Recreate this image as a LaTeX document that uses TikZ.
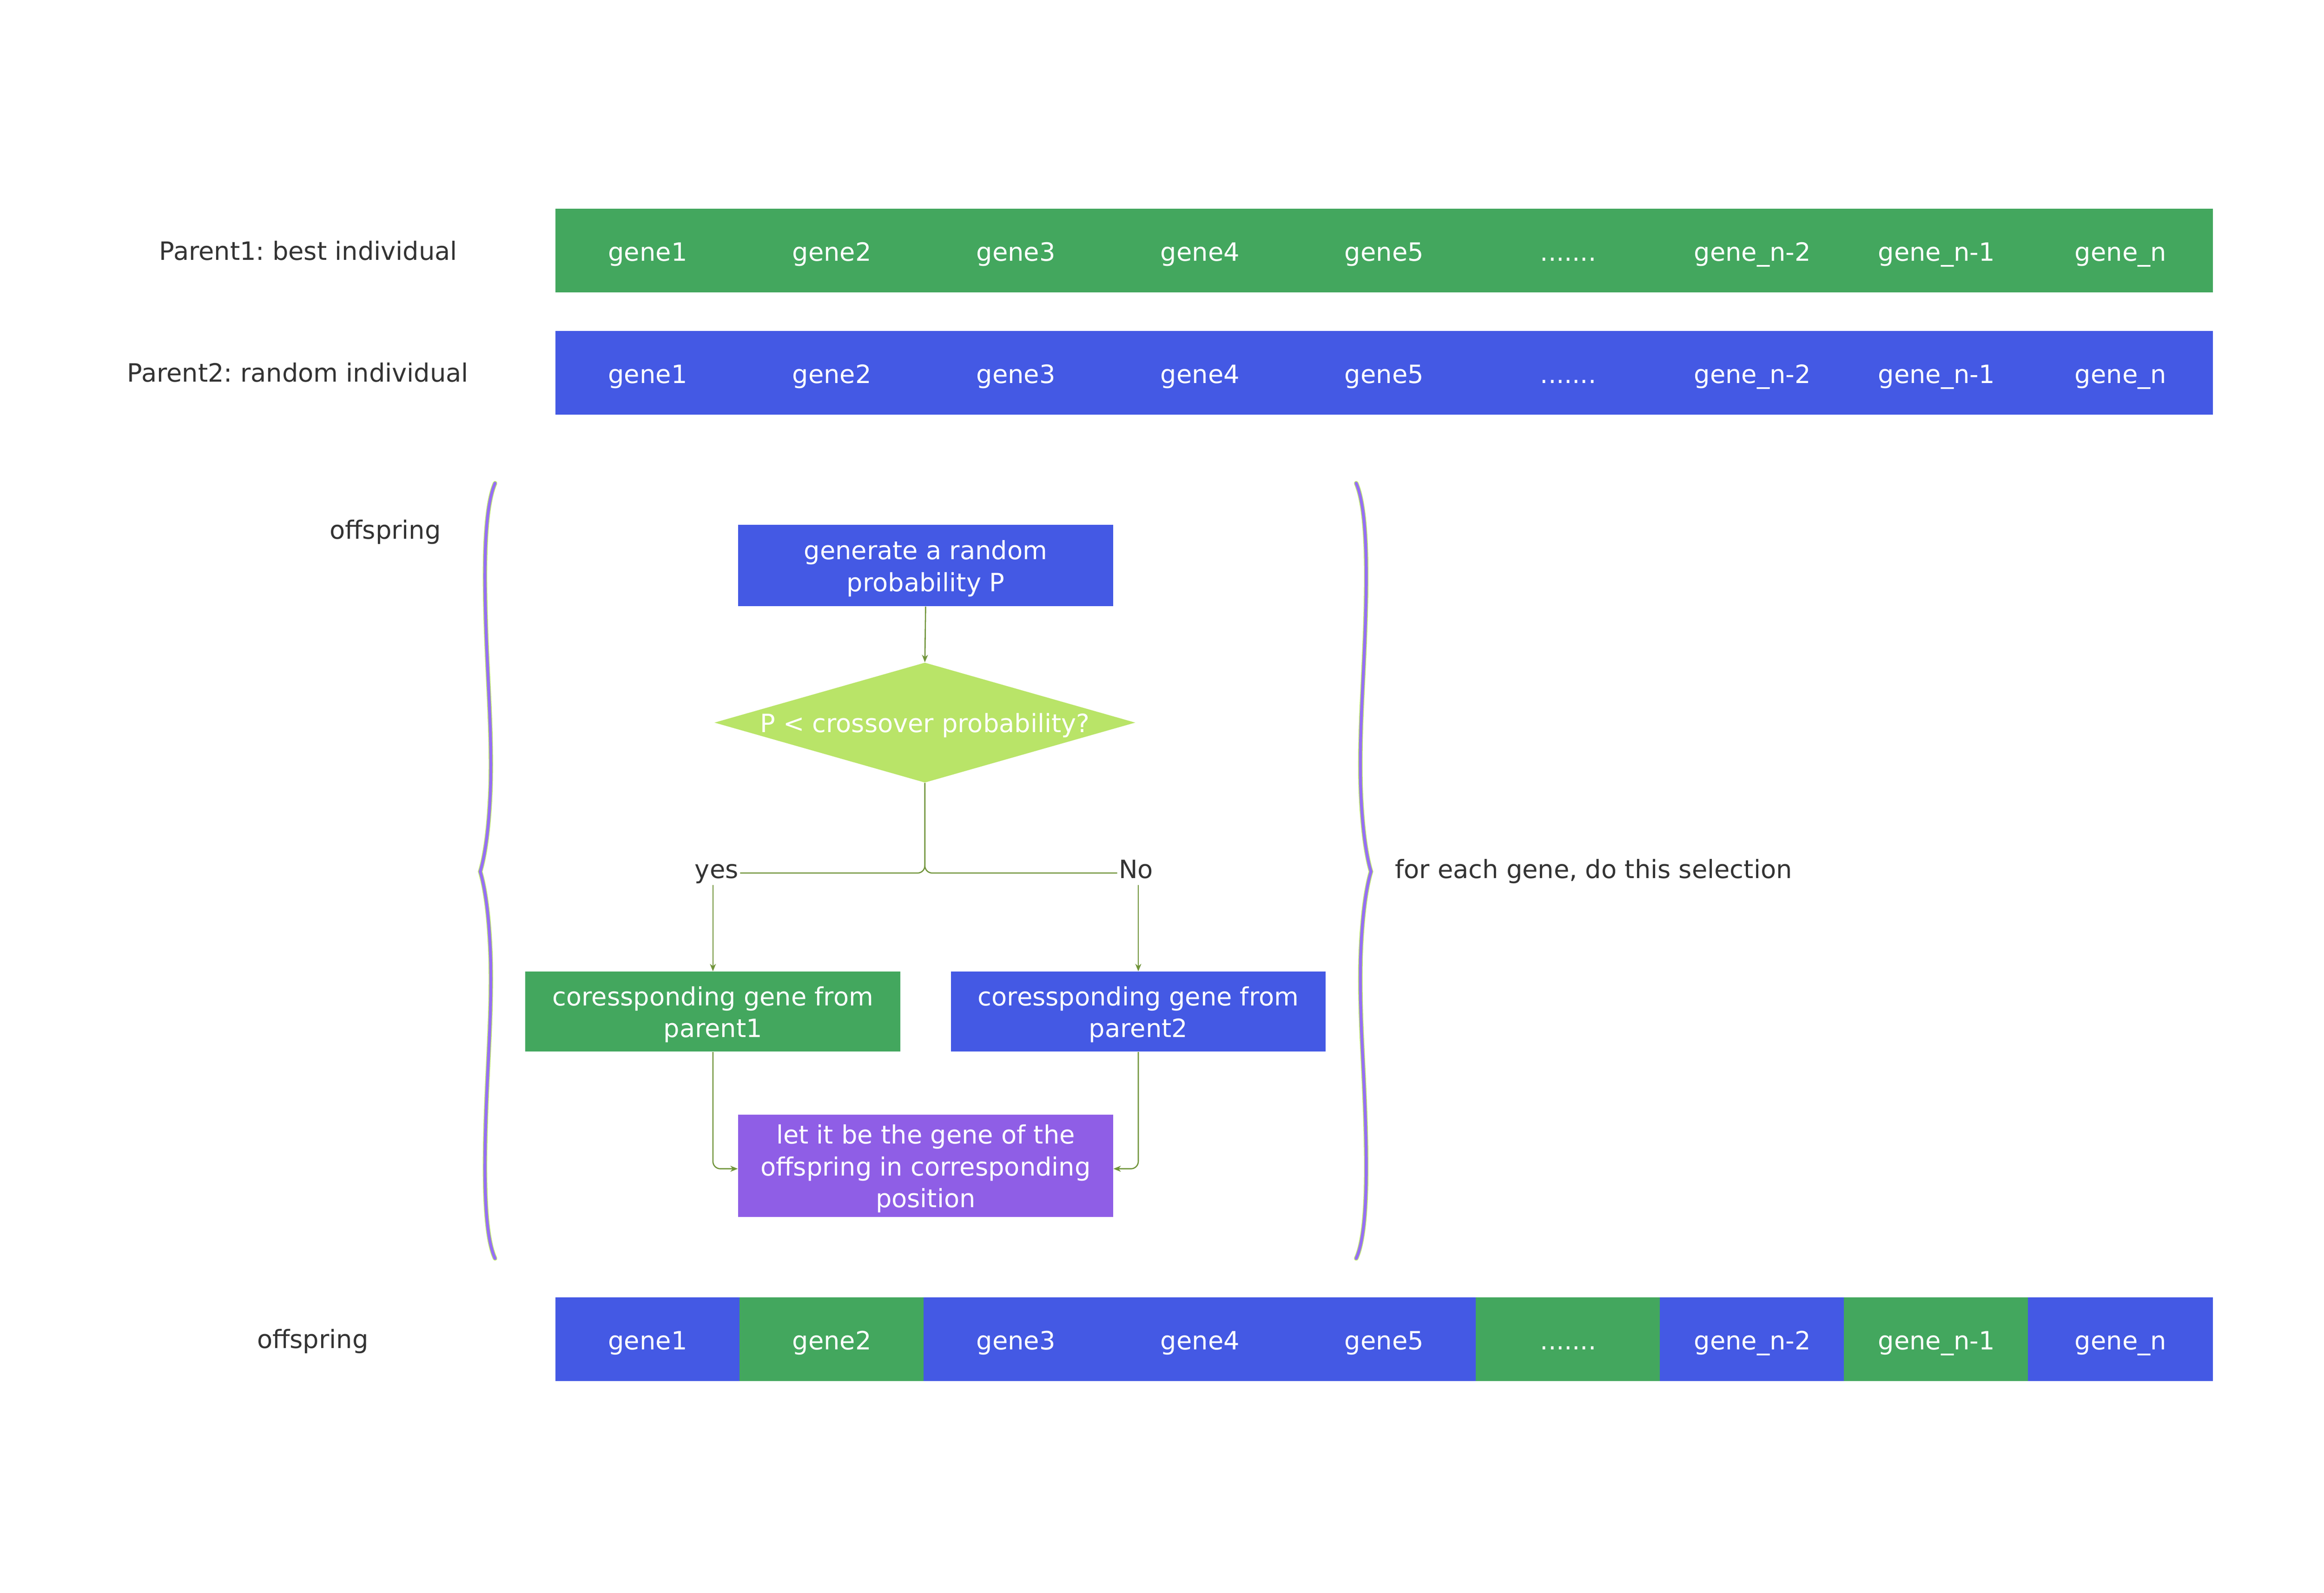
\documentclass[tikz,border=0pt]{standalone}
\usepackage{fontspec}
\setmainfont{DejaVu Sans}
\usetikzlibrary{shapes.geometric,arrows.meta}
\definecolor{ggreen}{RGB}{67,167,94}
\definecolor{gblue}{RGB}{68,89,228}
\definecolor{gpurple}{RGB}{143,94,230}
\definecolor{dgreen}{RGB}{185,228,104}
\definecolor{lcol}{RGB}{112,148,58}
\definecolor{tcol}{RGB}{51,51,51}
\definecolor{bpurple}{RGB}{150,110,245}
\definecolor{bgreen}{RGB}{190,230,110}
\newcommand\sevdots{.......}
\frenchspacing
\tikzset{
  cell/.style={minimum width=124.5pt, minimum height=56pt, inner sep=0pt, text height=15pt, text depth=1pt, text=white, fill=#1, draw=#1, line width=0.3pt},
  lbl/.style={text=tcol, inner sep=1pt, text height=12.5pt, text depth=3.5pt},
  fbox/.style={minimum width=253pt, minimum height=#1, inner sep=0pt},
  btext/.style={text=white, align=center, inner sep=0pt},
  conn/.style={draw=lcol, line width=0.8pt},
  arr/.style={-{Stealth[length=5pt,width=4pt,inset=1.5pt]}},
  dia/.style={diamond, fill=dgreen, minimum width=284pt, minimum height=81pt, inner sep=0pt},
}
\begin{document}
\begin{tikzpicture}[x=1pt,y=-1pt, font=\fontsize{17}{21.5}\selectfont]
\useasboundingbox[fill=white] (0,0) rectangle (1568,1074.7);
% parent rows
\foreach \t [count=\i from 0] in {gene1,gene2,gene3,gene4,gene5,\sevdots,gene\_n-2,gene\_n-1,gene\_n}{
  \node[cell=ggreen] (pa\i) at ({437+\i*124.22},169) {\t};
  \node[cell=gblue]  (pb\i) at ({437+\i*124.22},251.5) {\t};
}
\foreach \t/\c [count=\i from 0] in {gene1/gblue,gene2/ggreen,gene3/gblue,gene4/gblue,gene5/gblue,\sevdots/ggreen,gene\_n-2/gblue,gene\_n-1/ggreen,gene\_n/gblue}{
  \node[cell=\c] (of\i) at ({437+\i*124.22},903.5) {\t};
}
\node[lbl] (l1) at (208,171) {Parent1: best individual};
\node[lbl] (l2) at (201,253) {Parent2: random individual};
\node[lbl] (l3) at (260,359) {offspring};
\node[lbl] (l4) at (211,905) {offspring};
\node[lbl, anchor=west] (l5) at (940,588) {for each gene, do this selection};
% flowchart
\node[fbox=55pt, fill=gblue] (gen) at (624.5,381.5) {};
\node[btext] (gent) at ([yshift=-2pt]gen.center) {generate a random\\probability P};
\node[dia] (d) at (624,487.5) {};
\node[btext] (dt) at ([yshift=-2pt]d.center) {P < crossover probability?};
\node[lbl] (yes) at (483.5,588) {yes};
\node[lbl] (no) at (766.5,588) {No};
\node[fbox=54pt, fill=ggreen] (g) at (481,682.5) {};
\node[btext] (gt) at ([yshift=-2pt]g.center) {coressponding gene from\\parent1};
\node[fbox=54pt, fill=gblue] (b) at (768,682.5) {};
\node[btext] (bt) at ([yshift=-2pt]b.center) {coressponding gene from\\parent2};
\node[fbox=69pt, fill=gpurple] (pu) at (624.5,786.5) {};
\node[btext] (put) at ([yshift=-2pt]pu.center) {let it be the gene of the\\offspring in corresponding\\position};
\draw[conn,arr] (gen.south) -- (d.north);
\draw[conn,rounded corners=5pt] (d.south) |- ([yshift=-1pt]yes.east);
\draw[conn,rounded corners=5pt] (d.south) |- ([yshift=-1pt]no.west);
\draw[conn,arr] (g.north |- yes.south) -- (g.north);
\draw[conn,arr] (b.north |- no.south) -- (b.north);
\draw[conn,arr,rounded corners=5pt] (g.south) |- ([yshift=-2pt]pu.west);
\draw[conn,arr,rounded corners=5pt] (b.south) |- ([yshift=-2pt]pu.east);
% braces
\def\bracepath{(334,326) .. controls (328,340) and (326.5,370) .. (327.5,410) .. controls (328.5,455) and (332,490) .. (331,530) .. controls (330,560) and (327,578) .. (324,588) .. controls (327,598) and (330,616) .. (331,646) .. controls (332,686) and (328.5,721) .. (327.5,766) .. controls (326.5,806) and (328,836) .. (334,849)}
\draw[bgreen, line width=3.0pt, line cap=round] \bracepath;
\draw[bpurple, line width=2.0pt, line cap=round] \bracepath;
\begin{scope}[xscale=-1, xshift=-1249pt]
\draw[bgreen, line width=3.0pt, line cap=round] \bracepath;
\draw[bpurple, line width=2.0pt, line cap=round] \bracepath;
\end{scope}
\end{tikzpicture}
\end{document}
